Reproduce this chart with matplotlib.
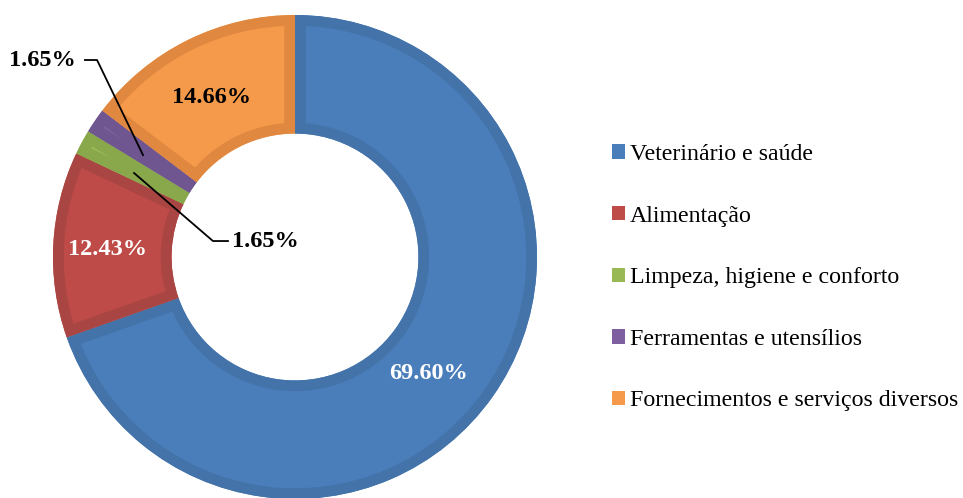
import matplotlib.pyplot as plt
from matplotlib.patches import Patch, PathPatch

categories = ['Veterinário e saúde', 'Alimentação', 'Limpeza, higiene e conforto',
              'Ferramentas e utensílios', 'Fornecimentos e serviços diversos']
values = [69.60, 12.43, 1.65, 1.65, 14.66]
fills = ['#4A7EBB', '#BE4B48', '#98B954', '#7D5FA0', '#F59A4B']
edges = ['#4473AA', '#A94542', '#89A74B', '#705690', '#E0883F']

plt.rcParams['font.family'] = ['Liberation Serif', 'DejaVu Serif']

fig = plt.figure(figsize=(9.63, 4.98), dpi=100)
# pie axes: centre at (295, 257) px, radius 242 px
cx, cy, R = 295, 257, 242
ax = fig.add_axes([(cx - R) / 963, (498 - cy - R) / 498, 2 * R / 963, 2 * R / 498])

wedges, _ = ax.pie(values, colors=fills, startangle=90, counterclock=False, radius=1,
                   wedgeprops=dict(width=0.49, linewidth=0))
ax.set_xlim(-1, 1)
ax.set_ylim(-1, 1)
ax.axis('off')

# darker inner band along each wedge border (stroke clipped to the wedge)
for w, ec in zip(wedges, edges):
    band = PathPatch(w.get_path(), transform=w.get_transform(), facecolor='none',
                     edgecolor=ec, linewidth=15.5)
    ax.add_patch(band)
    band.set_clip_path(w)

lbl = dict(fontsize=17.5, fontweight='bold')
ax.text(0.55, -0.48, '69.60%', color='white', ha='center', va='center', **lbl)
ax.text(-0.773, 0.033, '12.43%', color='white', ha='center', va='center', **lbl)
ax.text(-0.343, 0.661, '14.66%', color='black', ha='center', va='center', **lbl)

# leader lines for the small slices
ax.plot([-0.868, -0.818, -0.628], [0.814, 0.814, 0.421], color='black', lw=1.3, clip_on=False)
ax.text(-0.905, 0.814, '1.65%', color='black', ha='right', va='center', **lbl)
ax.plot([-0.665, -0.339, -0.277], [0.347, 0.066, 0.066], color='black', lw=1.3, clip_on=False)
ax.text(-0.26, 0.066, '1.65%', color='black', ha='left', va='center', **lbl)

handles = [Patch(facecolor=f, edgecolor='none') for f in fills]
fig.legend(handles, categories, loc='upper left', bbox_to_anchor=(612 / 963, 1 - 144 / 498),
           frameon=False, fontsize=17.2, handlelength=0.55, handleheight=0.55,
           handletextpad=0.2, labelspacing=1.7, borderpad=0, borderaxespad=0)

plt.savefig('out.png', dpi=100)
